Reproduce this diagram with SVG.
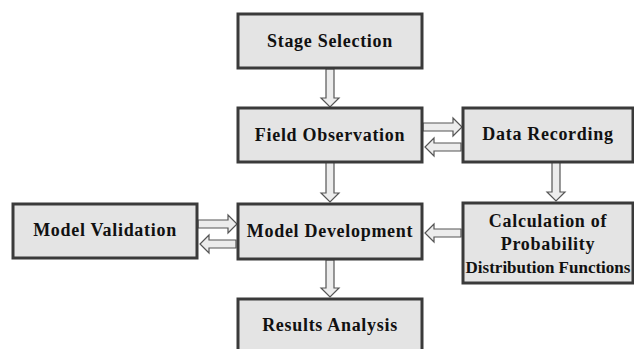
<svg xmlns="http://www.w3.org/2000/svg" width="634" height="349" viewBox="0 0 634 349">
<style>
.box{fill:#e4e4e4;stroke:#3a3a3a;stroke-width:3}
.t{font-family:'Liberation Serif','Times New Roman',serif;font-weight:bold;font-size:18px;letter-spacing:0.7px;fill:#111;text-anchor:middle}
.ar{fill:#ececec;stroke:#555;stroke-width:1.2;stroke-linejoin:miter}
</style>
<rect width="634" height="349" fill="#fff"/>
<g id="connectors">
<path class="ar" d="M326,69 H334 V98 H339 L330,107 L321,98 H326 Z"/>
<path class="ar" d="M326,162 H334 V193 H339 L330,202 L321,193 H326 Z"/>
<path class="ar" d="M552,162 H560 V192 H565 L556,201 L547,192 H552 Z"/>
<path class="ar" d="M326,260 H334 V288 H339 L330,297 L321,288 H326 Z"/>
<path class="ar" d="M423,123 V131 H453 V136 L462,127 L453,118 V123 Z"/>
<path class="ar" d="M461,143 V151 H434 V156 L425,147 L434,138 V143 Z"/>
<path class="ar" d="M198,220 V228 H228 V233 L237,224 L228,215 V220 Z"/>
<path class="ar" d="M236,240 V248 H209 V253 L200,244 L209,235 V240 Z"/>
<path class="ar" d="M461,229 V237 H434 V242 L425,233 L434,224 V229 Z"/>
</g>
<g id="stage-selection">
<rect class="box" x="238" y="14" width="184" height="54"/>
<text class="t" x="330" y="47">Stage Selection</text>
</g>
<g id="field-observation">
<rect class="box" x="238" y="108" width="184" height="54"/>
<text class="t" x="330" y="141">Field Observation</text>
</g>
<g id="data-recording">
<rect class="box" x="463" y="108" width="170" height="54"/>
<text class="t" x="548" y="140">Data Recording</text>
</g>
<g id="model-validation">
<rect class="box" x="13" y="204" width="184" height="54"/>
<text class="t" x="105" y="236">Model Validation</text>
</g>
<g id="model-development">
<rect class="box" x="238" y="204" width="184" height="55"/>
<text class="t" x="330" y="237">Model Development</text>
</g>
<g id="calculation-pdf">
<rect class="box" x="463" y="203" width="170" height="80"/>
<text class="t" x="548" y="227">Calculation of</text>
<text class="t" x="548" y="250">Probability</text>
<text class="t" x="548" y="273" style="letter-spacing:0;font-size:17px">Distribution Functions</text>
</g>
<g id="results-analysis">
<rect class="box" x="238" y="299" width="184" height="54"/>
<text class="t" x="330" y="331">Results Analysis</text>
</g>
</svg>
